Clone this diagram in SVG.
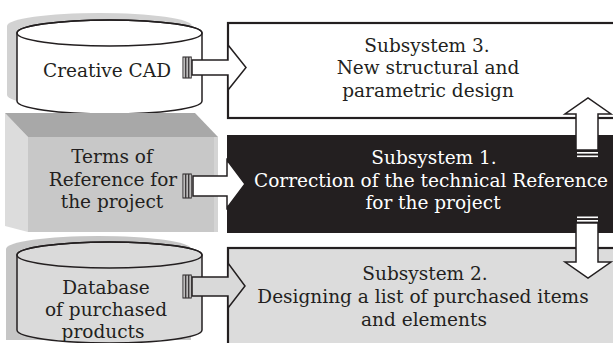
<svg xmlns="http://www.w3.org/2000/svg" width="613" height="343" viewBox="0 0 613 343">
<style>
.t{font-family:"DejaVu Serif","Liberation Serif",serif;font-size:18.5px;fill:#231f20;text-anchor:middle}
.w{fill:#ffffff}
.ol{stroke:#231f20;stroke-width:1.5;stroke-linejoin:miter}
.bar{fill:#ffffff;stroke:#231f20;stroke-width:1}
</style>
<rect width="613" height="343" fill="#ffffff"/>
<g id="creative-cad">
<path d="M7,26 A92.5,13 0 0 1 192,26 L192,95 A92.5,13 0 0 1 7,95 Z" fill="#d2d2d2"/>
<path d="M17,33 A92.5,13 0 0 1 202,33 L202,101 A92.5,13 0 0 1 17,101 Z" fill="#ffffff" class="ol"/>
<ellipse cx="109.5" cy="33" rx="92.5" ry="13" fill="none" class="ol"/>
<text class="t" x="107" y="77">Creative CAD</text>
</g>
<g id="terms-of-reference">
<polygon points="5,113 28,137 28,232 5,226" fill="#dcdcdc"/>
<polygon points="5,113 195,113 218,137 28,137" fill="#a8a8a8"/>
<rect x="28" y="137" width="190" height="95" fill="#c8c8c8"/>
<rect x="214" y="137" width="4" height="95" fill="#d4d4d4"/>
<text class="t" x="112" y="163">Terms of</text>
<text class="t" x="113" y="186">Reference for</text>
<text class="t" x="112" y="208">the project</text>
</g>
<g id="database">
<path d="M6,249 A92.5,13 0 0 1 191,249 L191,340 L6,340 Z" fill="#c6c6c6"/>
<path d="M17,255 A92.5,13 0 0 1 202,255 L202,330 A92.5,13 0 0 1 17,330 Z" fill="#dadada" class="ol"/>
<ellipse cx="109.5" cy="255" rx="92.5" ry="13" fill="none" class="ol"/>
<text class="t" x="106" y="294">Database</text>
<text class="t" x="106" y="316">of purchased</text>
<text class="t" x="103" y="338">products</text>
</g>
<g id="subsystem-3">
<rect x="228" y="23" width="400" height="95" fill="#ffffff" stroke="#231f20" stroke-width="2.2"/>
<text class="t" x="427" y="52">Subsystem 3.</text>
<text class="t" x="428" y="74">New structural and</text>
<text class="t" x="428" y="97">parametric design</text>
</g>
<g id="subsystem-1">
<rect x="227" y="135" width="400" height="98" fill="#231f20"/>
<text class="t w" x="434" y="164">Subsystem 1.</text>
<text class="t w" x="431" y="187">Correction of the technical Reference</text>
<text class="t w" x="433" y="209">for the project</text>
</g>
<g id="subsystem-2">
<rect x="228" y="248" width="400" height="110" fill="#dcdcdc" stroke="#231f20" stroke-width="2.2"/>
<text class="t" x="425" y="280">Subsystem 2.</text>
<text class="t" x="423" y="303">Designing a list of purchased items</text>
<text class="t" x="424" y="326">and elements</text>
</g>
<g id="connectors">
<polygon points="192,60 228,60 228,45 246,67.5 228,90 228,75 192,75" fill="#ffffff" class="ol"/>
<rect class="bar" x="183" y="57" width="2.2" height="21"/>
<rect class="bar" x="186" y="57" width="2.2" height="21"/>
<rect class="bar" x="189" y="57" width="2.2" height="21"/>
<polygon points="193,176 227,176 227,160 245,184 227,208 227,196 193,196" fill="#ffffff" class="ol"/>
<rect class="bar" x="183" y="174" width="2.2" height="24"/>
<rect class="bar" x="186" y="174" width="2.2" height="24"/>
<rect class="bar" x="189" y="174" width="2.2" height="24"/>
<polygon points="192,277 228,277 228,263 245,286 228,308 228,296 192,296" fill="#d9d9d9" class="ol"/>
<rect class="bar" x="183" y="275" width="2.2" height="23" fill="#e6e6e6"/>
<rect class="bar" x="186" y="275" width="2.2" height="23"/>
<rect class="bar" x="189" y="275" width="2.2" height="23"/>
<polygon points="576,150 576,114 565,114 588,98 611,114 598,114 598,150" fill="#ffffff" class="ol"/>
<rect x="577" y="152" width="21" height="1.6" fill="#ffffff"/>
<rect x="577" y="155.5" width="21" height="1.6" fill="#ffffff"/>
<rect x="577" y="216.5" width="21" height="1.6" fill="#ffffff"/>
<rect x="577" y="220" width="21" height="1.6" fill="#ffffff"/>
<polygon points="576,223 598,223 598,262 611,262 588,278 565,262 576,262" fill="#ffffff" class="ol"/>
</g>
</svg>
